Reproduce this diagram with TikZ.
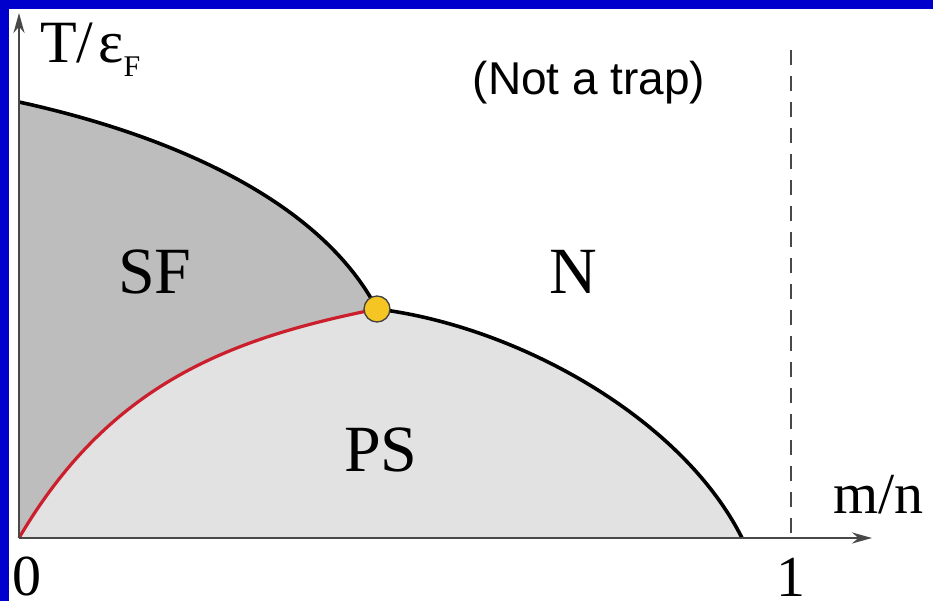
\documentclass[tikz,border=0pt]{standalone}
\usepackage{fontspec}
\setmainfont{Liberation Serif}
\newfontfamily\slidefont{Liberation Sans}
\usetikzlibrary{arrows.meta}
\definecolor{slideblue}{HTML}{0000CC}
\definecolor{sfgray}{HTML}{BDBDBD}
\definecolor{psgray}{HTML}{E2E2E2}
\definecolor{psred}{HTML}{CC1F2E}
\definecolor{tcyellow}{HTML}{F5C623}
\definecolor{axisgray}{HTML}{484848}

\begin{document}
\begin{tikzpicture}[x=1pt, y=-1pt, every node/.style={inner sep=0pt},
    phase/.style={font=\fontsize{66}{66}\selectfont, anchor=base},
    axlabel/.style={font=\fontsize{58}{58}\selectfont, anchor=base},
    axis/.style={draw=axisgray, line width=2.5pt, -{Stealth[length=20pt, width=11pt]}}]
    \useasboundingbox (0,0) rectangle (933,601);
    \fill[slideblue] (0,0) rectangle (933,601);
    \fill[white] (9,9) rectangle (933,601);

    \coordinate (origin) at (19,538);
    \coordinate (ytip) at (19,13);
    \coordinate (xtip) at (872,538);
    \coordinate (tsf) at (19,102);
    \coordinate (tc) at (377,309);
    \coordinate (mend) at (742,538);
    \coordinate (dtop) at (791,50);
    \coordinate (dbot) at (791,538);

    % phase regions
    \fill[sfgray] (tsf) .. controls (170,135) and (320,200) .. (tc)
        .. controls (227,339) and (109,385) .. (origin) -- cycle;
    \fill[psgray] (origin) .. controls (109,385) and (227,339) .. (tc)
        .. controls (517,326) and (682,418) .. (mend) -- cycle;

    % boundaries
    \draw[line width=3.6pt] (tsf) .. controls (170,135) and (320,200) .. (tc);
    \draw[line width=3.6pt] (tc) .. controls (517,326) and (682,418) .. (mend);
    \draw[psred, line width=3.2pt] (origin) .. controls (109,385) and (227,339) .. (tc);
    \draw[axisgray, line width=2pt, dash pattern=on 15pt off 11pt] (dtop) -- (dbot);

    \draw[axis] (origin) -- (ytip);
    \draw[axis] (origin) -- (xtip);

    \node[circle, draw=black!75, line width=1.3pt, fill=tcyellow, minimum size=26pt] (tcdot) at (tc) {};

    \node[phase] (sf) at (155,294) {SF};
    \node[phase] (n) at (573,293) {N};
    \node[phase] (ps) at (381,471) {PS};

    \node[anchor=base west, font=\fontsize{60}{60}\selectfont] (tlabel) at (40,63)
        {T/\kern5pt ε\raisebox{-14pt}{\fontsize{30}{30}\selectfont F}};
    \node[axlabel, anchor=base west] (mlabel) at (833,513) {m/n};
    \node[axlabel] (zero) at (27,595) {0};
    \node[axlabel] (one) at (791,596) {1};
    \node[anchor=base, font=\slidefont\fontsize{46}{46}\selectfont] (trap) at (589,95) {(Not a trap)};
  \end{tikzpicture}
\end{document}
